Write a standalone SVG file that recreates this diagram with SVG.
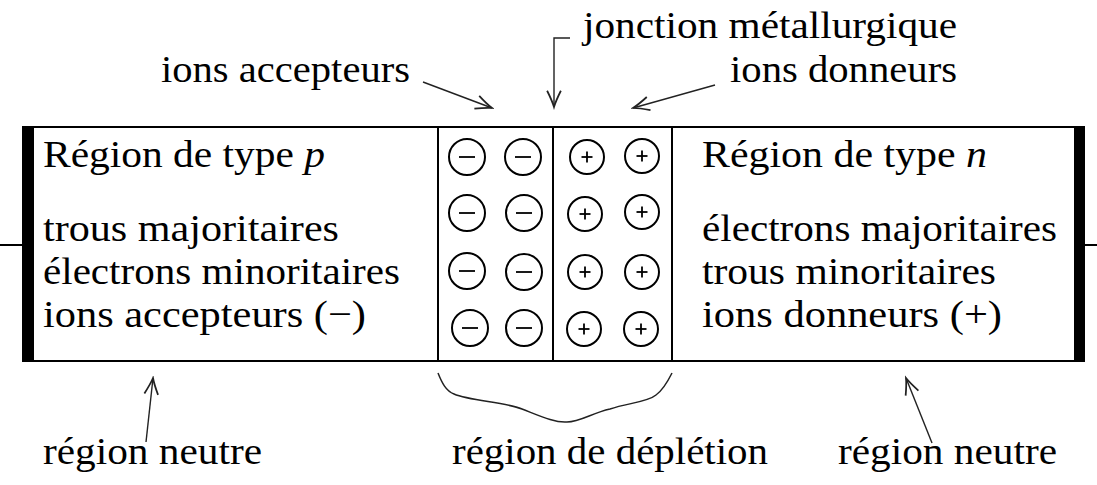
<svg xmlns="http://www.w3.org/2000/svg" width="1097" height="485" viewBox="0 0 1097 485">
<style>
text{font-family:"Liberation Serif","Times New Roman",serif;font-size:38px;fill:#000}
.it{font-style:italic}
.ln{stroke:#000;stroke-width:2;fill:none}
.ion{stroke:#000;stroke-width:2;fill:#fff}
.sg{stroke:#000;stroke-width:1.8;fill:none}
.arr{stroke:#222;stroke-width:1.4;fill:none;marker-end:url(#ah)}
.brace{stroke:#222;stroke-width:1.5;fill:none}
</style>
<defs>
<marker id="ah" markerUnits="userSpaceOnUse" markerWidth="20" markerHeight="20" viewBox="-14 -7 16 14" refX="0" refY="0" orient="auto">
<path d="M-13,-5.5 Q-5,-1.5 0,0 Q-5,1.5 -13,5.5" stroke="#222" stroke-width="1.4" fill="none"/>
</marker>
<g id="minus"><circle class="ion" r="18"/><line class="sg" x1="-8" y1="0" x2="8" y2="0"/></g>
<g id="plus"><circle class="ion" r="17"/><line class="sg" x1="-5.5" y1="0" x2="5.5" y2="0"/><line class="sg" x1="0" y1="-5.5" x2="0" y2="5.5"/></g>
</defs>
<rect width="1097" height="485" fill="#fff"/>

<g id="device">
<rect class="ln" x="28" y="127" width="1052" height="234"/>
<rect x="22" y="126" width="12" height="236" fill="#000"/>
<rect x="1074" y="126" width="11" height="236" fill="#000"/>
<line class="ln" x1="0" y1="245" x2="22" y2="245"/>
<line class="ln" x1="1085" y1="245" x2="1097" y2="245"/>
<line class="ln" x1="438" y1="127" x2="438" y2="361"/>
<line class="ln" x1="553" y1="127" x2="553" y2="361"/>
<line class="ln" x1="672" y1="127" x2="672" y2="361"/>
</g>

<g id="p-region">
<text x="43" y="167" textLength="282" lengthAdjust="spacingAndGlyphs">Région de type <tspan class="it">p</tspan></text>
<text x="43" y="241" textLength="296" lengthAdjust="spacingAndGlyphs">trous majoritaires</text>
<text x="43" y="284" textLength="357" lengthAdjust="spacingAndGlyphs">électrons minoritaires</text>
<text x="43" y="327" textLength="323" lengthAdjust="spacingAndGlyphs">ions accepteurs (−)</text>
</g>

<g id="n-region">
<text x="702" y="167" textLength="285" lengthAdjust="spacingAndGlyphs">Région de type <tspan class="it">n</tspan></text>
<text x="702" y="241" textLength="355" lengthAdjust="spacingAndGlyphs">électrons majoritaires</text>
<text x="702" y="284" textLength="294" lengthAdjust="spacingAndGlyphs">trous minoritaires</text>
<text x="702" y="327" textLength="300" lengthAdjust="spacingAndGlyphs">ions donneurs (+)</text>
</g>

<g id="acceptor-ions">
<use href="#minus" x="467" y="157"/><use href="#minus" x="523" y="157"/>
<use href="#minus" x="467" y="213"/><use href="#minus" x="524" y="213"/>
<use href="#minus" x="467" y="271"/><use href="#minus" x="524" y="272"/>
<use href="#minus" x="470" y="328"/><use href="#minus" x="524" y="328"/>
</g>

<g id="donor-ions">
<use href="#plus" x="587" y="157"/><use href="#plus" x="642" y="156"/>
<use href="#plus" x="585" y="214"/><use href="#plus" x="642" y="212"/>
<use href="#plus" x="585" y="272"/><use href="#plus" x="642" y="272"/>
<use href="#plus" x="584" y="329"/><use href="#plus" x="641" y="329"/>
</g>

<g id="label-ions-accepteurs"><text x="161" y="82" textLength="249" lengthAdjust="spacingAndGlyphs">ions accepteurs</text></g>
<g id="label-jonction"><text x="583" y="38" textLength="374" lengthAdjust="spacingAndGlyphs">jonction métallurgique</text></g>
<g id="label-ions-donneurs"><text x="730" y="82" textLength="227" lengthAdjust="spacingAndGlyphs">ions donneurs</text></g>
<g id="label-neutre-gauche"><text x="43" y="464" textLength="219" lengthAdjust="spacingAndGlyphs">région neutre</text></g>
<g id="label-depletion"><text x="452" y="464" textLength="316" lengthAdjust="spacingAndGlyphs">région de déplétion</text></g>
<g id="label-neutre-droite"><text x="838" y="464" textLength="219" lengthAdjust="spacingAndGlyphs">région neutre</text></g>

<g id="connectors">
<path class="arr" d="M423,82 L492,108"/>
<path class="arr" d="M570,38 L554,38 L554,107"/>
<path class="arr" d="M715,85 L633,108"/>
<path class="arr" d="M146,442 L153,378"/>
<path class="arr" d="M932,443 L906,378"/>
<path class="brace" d="M438,373 C442,383 446,391 454,394 C470,401 505,402 522,409 C540,416 555,423 567,422 C580,422 592,413 610,409 C628,403 648,402 656,395 C663,390 668,381 672,373"/>
</g>
</svg>
